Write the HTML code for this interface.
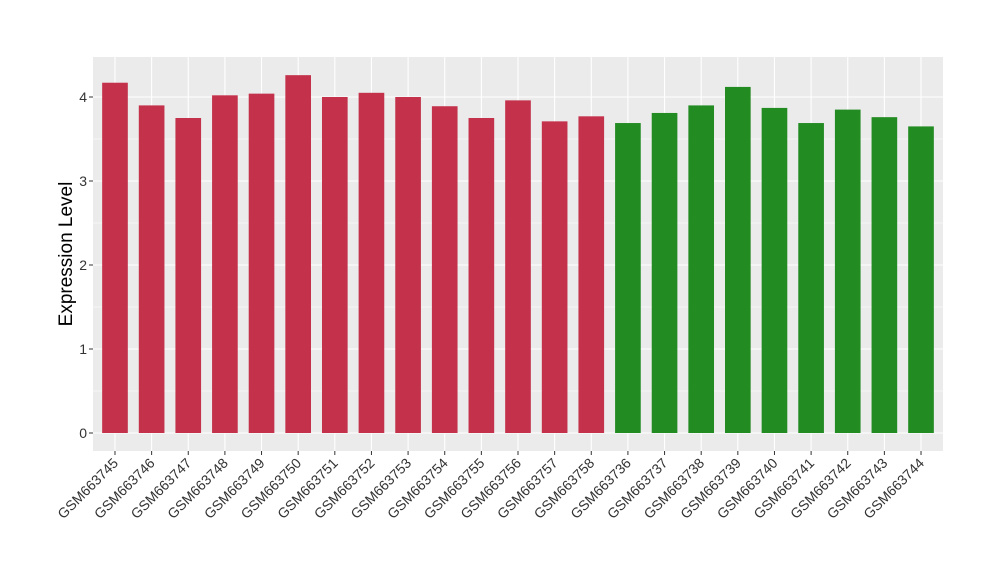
<!DOCTYPE html>
<html><head><meta charset="utf-8"><style>
body{margin:0;background:#fff;font-family:"Liberation Sans",Arial,sans-serif}
</style></head><body>
<svg id="chart" width="1000" height="580" xmlns="http://www.w3.org/2000/svg">
<rect x="93" y="57" width="850" height="394" fill="#ebebeb"/>
<g id="grid"></g><g id="bars"></g><g id="axes"></g>
<text transform="translate(72,254) rotate(-90)" text-anchor="middle" font-size="19" fill="#000">Expression Level</text>
</svg>
<script>
const categories=["GSM663745","GSM663746","GSM663747","GSM663748","GSM663749","GSM663750","GSM663751","GSM663752","GSM663753","GSM663754","GSM663755","GSM663756","GSM663757","GSM663758","GSM663736","GSM663737","GSM663738","GSM663739","GSM663740","GSM663741","GSM663742","GSM663743","GSM663744"];
const values=[4.17,3.90,3.75,4.02,4.04,4.26,4.00,4.05,4.00,3.89,3.75,3.96,3.71,3.77,3.69,3.81,3.90,4.12,3.87,3.69,3.85,3.76,3.65];
const groups=["a","a","a","a","a","a","a","a","a","a","a","a","a","a","b","b","b","b","b","b","b","b","b"];
const yTicks=[0,1,2,3,4];
const colors={a:"#c3314a",b:"#228b22"};
const NS="http://www.w3.org/2000/svg";
const px0=93,pw=850,y0=433,ppu=84;
const step=pw/(categories.length+0.2);
const xs=i=>px0+step*(i+0.6);
const ys=v=>y0-v*ppu;
function mk(t,a,p){const e=document.createElementNS(NS,t);for(const k in a)e.setAttribute(k,a[k]);p.appendChild(e);return e;}
const grid=document.getElementById('grid'),bars=document.getElementById('bars'),axes=document.getElementById('axes');
for(let v=-0.5;v<=4.5;v+=0.5){const y=ys(v);if(y<57||y>451)continue;
 const major=Number.isInteger(v);
 const l=mk('line',{x1:px0,x2:px0+pw,y1:y,y2:y,stroke:'#fff','stroke-width':major?1.1:0.5},grid);
 
 }
categories.forEach((c,i)=>{const l=mk('line',{x1:xs(i),x2:xs(i),y1:57,y2:451,stroke:'#fff','stroke-width':1.1},grid);
 
 });
const bw=step*0.7;
categories.forEach((c,i)=>{const r=mk('rect',{x:xs(i)-bw/2,y:ys(values[i]),width:bw,height:y0-ys(values[i]),fill:colors[groups[i]]},bars);
 
 
 const t=mk('line',{x1:xs(i),x2:xs(i),y1:451,y2:455,stroke:'#333'},axes);
 
 
 const tx=mk('text',{transform:`translate(${xs(i)+4},${464}) rotate(-45)`,'text-anchor':'end','font-size':14,fill:'#333'},axes);
 tx.textContent=c;
 
 });
yTicks.forEach(v=>{const t=mk('line',{x1:89,x2:93,y1:ys(v),y2:ys(v),stroke:'#333'},axes);
 
 
 const tx=mk('text',{x:87,y:ys(v)+5,'text-anchor':'end','font-size':14,fill:'#333'},axes);
 tx.textContent=v;
 
 });
</script>
</body></html>
